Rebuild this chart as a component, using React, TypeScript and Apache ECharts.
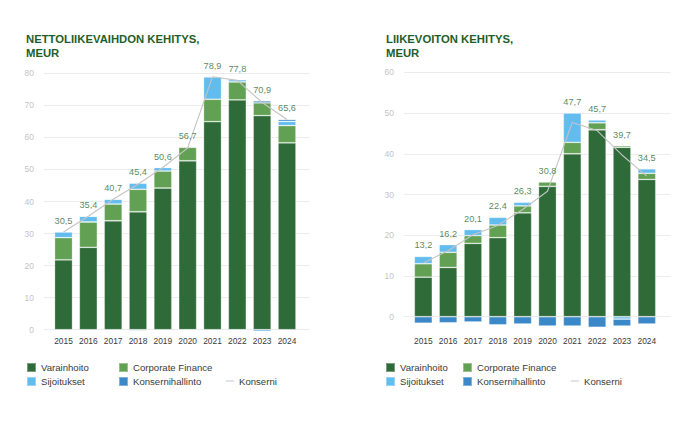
import React, { useEffect, useRef } from 'react';
import * as echarts from 'echarts';

const years = ['2015', '2016', '2017', '2018', '2019', '2020', '2021', '2022', '2023', '2024'];

// Nettoliikevaihto (MEUR)
const netVarainhoito = [21.8, 25.7, 34.0, 36.8, 44.2, 52.7, 64.9, 71.7, 66.8, 58.3];
const netCorporateFinance = [6.9, 7.9, 5.2, 7.0, 5.3, 4.2, 7.0, 5.6, 4.0, 5.4];
const netSijoitukset = [1.8, 1.8, 1.5, 1.9, 1.1, -0.2, 7.0, 0.7, -0.5, 1.3];
const netKonsernihallinto = [0, 0, 0, -0.3, 0, 0, 0, -0.2, 0.6, 0.6];
const netKonserni = [30.5, 35.4, 40.7, 45.4, 50.6, 56.7, 78.9, 77.8, 70.9, 65.6];

// Liikevoitto (MEUR)
const opVarainhoito = [9.7, 12.1, 18.0, 19.4, 25.5, 32.0, 40.0, 45.9, 41.6, 33.7];
const opCorporateFinance = [3.3, 3.7, 1.9, 3.1, 1.7, 1.1, 2.8, 1.7, 0.4, 1.5];
const opSijoitukset = [1.8, 1.9, 1.5, 1.9, 0.9, 0, 7.2, 0.7, -0.6, 1.1];
const opKonsernihallinto = [-1.6, -1.5, -1.3, -2.0, -1.8, -2.3, -2.3, -2.6, -1.7, -1.8];
const opKonserni = [13.2, 16.2, 20.1, 22.4, 26.3, 30.8, 47.7, 45.7, 39.7, 34.5];

const segmentNames = ['Varainhoito', 'Corporate Finance', 'Sijoitukset', 'Konsernihallinto'];
const lineName = 'Konserni';
const colors = ['#2e6b38', '#62a053', '#63bcee', '#3a88c8'];
const lineColor = '#c4c4c4';
const labelGreen = '#2c6a34';
const titleGreen = '#1e5e2a';
const FONT = '"Liberation Sans", Arial, sans-serif';

const fmt = (v: number) => v.toFixed(1).replace('.', ',');

function buildSeries(gridAxis: number, cols: number[][], totals: number[], stackId: string) {
  const posTop = years.map((_, i) => cols.reduce((s, c) => s + Math.max(0, c[i]), 0));
  const bars = cols.map((c, k) => ({
    type: 'bar',
    name: segmentNames[k],
    xAxisIndex: gridAxis,
    yAxisIndex: gridAxis,
    stack: stackId,
    barWidth: 18,
    data: c,
    itemStyle: { color: colors[k], borderColor: 'rgba(255,255,255,0.35)', borderWidth: 0.8 },
    emphasis: { disabled: true },
    z: 2,
  }));
  const line = {
    type: 'line',
    name: lineName,
    xAxisIndex: gridAxis,
    yAxisIndex: gridAxis,
    data: totals,
    symbol: 'none',
    lineStyle: { color: lineColor, width: 1.1 },
    itemStyle: { color: lineColor },
    z: 5,
  };
  const labels = {
    type: 'scatter',
    name: 'labels-' + stackId,
    xAxisIndex: gridAxis,
    yAxisIndex: gridAxis,
    data: posTop,
    symbolSize: 1,
    itemStyle: { color: 'rgba(0,0,0,0)' },
    label: {
      show: true,
      position: 'top',
      distance: 6,
      color: labelGreen,
      fontSize: 9.2,
      fontFamily: FONT,
      formatter: (p: any) => fmt(totals[p.dataIndex]),
    },
    z: 6,
  };
  return [...bars, line, labels];
}

function legendItem(name: string, left: number, top: number, isLine = false) {
  return {
    left,
    top,
    padding: 0,
    itemWidth: isLine ? 8 : 9,
    itemHeight: isLine ? 1 : 9,
    itemGap: 0,
    selectedMode: false,
    data: [{ name, icon: 'rect' }],
    textStyle: { color: '#3a3a3a', fontSize: 9.6, fontFamily: FONT },
  };
}

export default function App() {
  const ref = useRef<HTMLDivElement>(null);
  useEffect(() => {
    if (!ref.current) return;
    const chart = echarts.init(ref.current, undefined, { renderer: 'svg' });
    const splitAxis = (gi: number, max: number) => ({
      gridIndex: gi,
      type: 'value',
      min: 0,
      max,
      interval: 10,
      axisLine: { show: false },
      axisTick: { show: false },
      axisLabel: { color: '#c4c4c4', fontSize: 8.5, fontFamily: FONT, margin: 10 },
      splitLine: { lineStyle: { color: '#ececec', width: 1 } },
    });
    const hiddenY = (gi: number, min: number, max: number) => ({
      gridIndex: gi,
      type: 'value',
      min,
      max,
      show: false,
      splitLine: { show: false },
    });
    const catAxis = (gi: number, margin: number) => ({
      gridIndex: gi,
      type: 'category',
      data: years,
      axisLine: { show: false, onZero: false },
      axisTick: { show: false },
      axisLabel: { color: '#3a3a3a', fontSize: 8.4, fontFamily: FONT, margin, interval: 0 },
      splitLine: { show: false },
    });
    const option: any = {
      animation: false,
      backgroundColor: '#ffffff',
      title: [
        {
          text: 'NETTOLIIKEVAIHDON KEHITYS,\nMEUR',
          left: 26,
          top: 32,
          padding: 0,
          textStyle: { color: titleGreen, fontSize: 11.3, fontWeight: 'bold', fontFamily: FONT, lineHeight: 14 },
        },
        {
          text: 'LIIKEVOITON KEHITYS,\nMEUR',
          left: 386,
          top: 32,
          padding: 0,
          textStyle: { color: titleGreen, fontSize: 11.3, fontWeight: 'bold', fontFamily: FONT, lineHeight: 14 },
        },
      ],
      grid: [
        { left: 44, top: 73.3, width: 266, height: 256.4 },
        { left: 51.1, top: 73.3, width: 248.3, height: 259.6 },
        { left: 404, top: 72.3, width: 266.7, height: 244.4 },
        { left: 410.9, top: 72.3, width: 248.3, height: 256.6 },
      ],
      xAxis: [
        { gridIndex: 0, type: 'value', min: 0, max: 1, show: false, splitLine: { show: false } },
        catAxis(1, 4),
        { gridIndex: 2, type: 'value', min: 0, max: 1, show: false, splitLine: { show: false } },
        catAxis(3, 8),
      ],
      yAxis: [splitAxis(0, 80), hiddenY(1, -1, 80), splitAxis(2, 60), hiddenY(3, -3, 60)],
      legend: [
        legendItem('Varainhoito', 26, 362),
        legendItem('Corporate Finance', 118, 362),
        legendItem('Sijoitukset', 26, 376),
        legendItem('Konsernihallinto', 118, 376),
        legendItem('Konserni', 226, 376, true),
        legendItem('Varainhoito', 385, 362),
        legendItem('Corporate Finance', 462, 362),
        legendItem('Sijoitukset', 385, 376),
        legendItem('Konsernihallinto', 462, 376),
        legendItem('Konserni', 571, 376, true),
      ],
      series: [
        ...buildSeries(1, [netVarainhoito, netCorporateFinance, netSijoitukset, netKonsernihallinto], netKonserni, 'net'),
        ...buildSeries(3, [opVarainhoito, opCorporateFinance, opSijoitukset, opKonsernihallinto], opKonserni, 'op'),
      ],
    };
    chart.setOption(option);
    return () => chart.dispose();
  }, []);
  return (
    <div
      ref={ref}
      style={{ position: 'fixed', left: 0, top: 0, width: 690, height: 429, background: '#fff' }}
    />
  );
}
